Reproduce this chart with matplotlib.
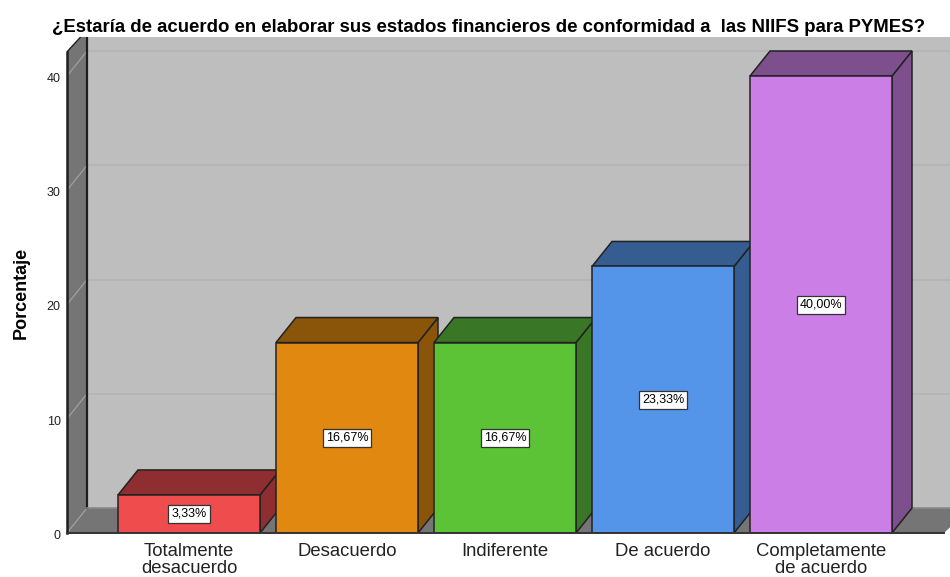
import matplotlib
matplotlib.use('Agg')
import matplotlib.pyplot as plt
from matplotlib.patches import Polygon
from matplotlib.transforms import ScaledTranslation

plt.rcParams['font.family'] = ['Liberation Sans', 'DejaVu Sans']

categories = ['Totalmente\ndesacuerdo', 'Desacuerdo', 'Indiferente', 'De acuerdo', 'Completamente\nde acuerdo']
values = [3.33, 16.67, 16.67, 23.33, 40.00]
labels = ['3,33%', '16,67%', '16,67%', '23,33%', '40,00%']
front_colors = ['#EF4C4E', '#E0880F', '#5CC236', '#5595E9', '#CB7EE6']
side_colors = ['#8E2E31', '#8A5509', '#397625', '#355D92', '#7D4F8D']
yticks = [0, 10, 20, 30, 40]

title = '¿Estaría de acuerdo en elaborar sus estados financieros de conformidad a  las NIIFS para PYMES?'

W, H = 950, 577
fig = plt.figure(figsize=(W / 100, H / 100), dpi=100)
ax = fig.add_axes([67 / W, 1 - 533 / H, (W - 67) / W, (533 - 37) / H])

# one category = 158 px, one percent = 11.425 px
xmin, xmax = (67 - 189) / 158, (950 - 189) / 158
ymax = (533 - 37) / 11.425
ax.set_xlim(xmin, xmax)
ax.set_ylim(0, ymax)

# depth of the fake 3d box
dx = 20 / 158
dy = 25 / 11.425
bar_w = 142 / 158
edge = '#222222'

ax.set_facecolor('white')
# back wall
ax.add_patch(Polygon([(xmin + dx, dy), (xmax + dx, dy), (xmax + dx, ymax), (xmin + dx, ymax)],
                     fc='#BEBEBE', ec='none', zorder=1))
for t in yticks[1:]:
    ax.plot([xmin + dx, xmax], [t + dy, t + dy], color='#B4B4B4', lw=1.2, zorder=1.5)

# left wall and floor
ax.add_patch(Polygon([(xmin, 0), (xmin + dx, dy), (xmin + dx, ymax), (xmin + dx * 0.68, ymax), (xmin, ymax - 1.3)],
                     fc='#757575', ec='none', zorder=2))
ax.add_patch(Polygon([(xmin, 0), (xmin + dx, dy), (xmax + dx, dy), (xmax - 6 / 158, 0)],
                     fc='#757575', ec='none', zorder=2))
for t in yticks:
    ax.plot([xmin, xmin + dx], [t, t + dy], color='#A0A0A0', lw=0.9, zorder=2.5)

ax.plot([xmin + dx, xmin + dx], [dy, ymax], color='#1E1E1E', lw=1.6, zorder=3)
ax.plot([xmin, xmin], [0, ymax - 1.3], color='#1E1E1E', lw=1.8, zorder=3, clip_on=False)
ax.plot([xmin, xmin + dx * 0.68], [ymax - 1.3, ymax], color='#1E1E1E', lw=1.0, zorder=3)
ax.plot([xmin + dx, xmax + dx], [dy, dy], color='#8A8A8A', lw=1.2, zorder=3)

# bars, left to right so the next front covers the side of the previous one
xs = list(range(len(values)))
for i, (x, v) in enumerate(zip(xs, values)):
    z = 5 + i
    l, r = x - bar_w / 2, x + bar_w / 2
    ax.add_patch(Polygon([(r, 0), (r + dx, dy), (r + dx, v + dy), (r, v)],
                         fc=side_colors[i], ec=edge, lw=1.1, zorder=z))
    ax.add_patch(Polygon([(l, v), (l + dx, v + dy), (r + dx, v + dy), (r, v)],
                         fc=side_colors[i], ec=edge, lw=1.1, zorder=z))
    ax.bar(x, v, width=bar_w, color=front_colors[i], edgecolor=edge, linewidth=1.1, zorder=z + 0.1)
    ax.text(x, v / 2, labels[i], ha='center', va='center', fontsize=9, color='black', zorder=z + 0.2,
            bbox=dict(boxstyle='square,pad=0.24', fc='white', ec='#333333', lw=0.9))

# floor front line
ax.plot([xmin, xmax - 6 / 158], [0, 0], color='#333333', lw=1.4, zorder=20, clip_on=False)

for s in ax.spines.values():
    s.set_visible(False)
ax.set_xticks(xs)
ax.set_xticklabels(categories, fontsize=13.3, color='#222222', linespacing=0.98)
ax.set_yticks(yticks)
ax.set_yticklabels([str(t) for t in yticks], fontsize=9, color='#222222')
ax.tick_params(axis='both', length=0)
ax.tick_params(axis='x', pad=7.5)
ax.tick_params(axis='y', pad=4.5)
shift = ScaledTranslation(0, -1.5 / 100, fig.dpi_scale_trans)
for lab in ax.get_yticklabels():
    lab.set_transform(lab.get_transform() + shift)

fig.text(21 / W, 1 - 293 / H, 'Porcentaje', rotation=90, ha='center', va='center',
         fontsize=13, fontweight='bold', color='black')
fig.text(489 / W, 1 - 28 / H, title, ha='center', va='center',
         fontsize=13.45, fontweight='bold', color='black')

fig.savefig('out.png', dpi=100)
